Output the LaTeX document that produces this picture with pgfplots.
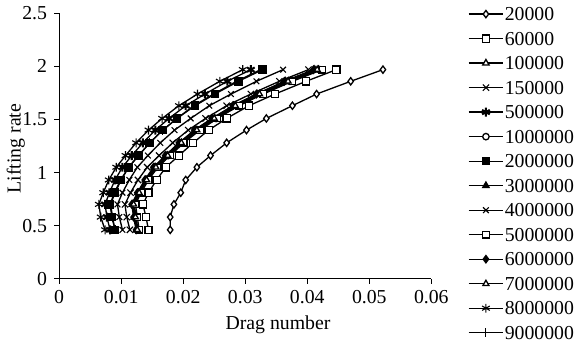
\documentclass[border=0pt]{standalone}
\usepackage{fontspec}
\setmainfont{Liberation Serif}
\usepackage{pgfplots}
\usepackage{pgfplotstable}
\pgfplotsset{compat=1.18}

% Lift-drag polars: drag number per Reynolds number at each lifting rate
\pgfplotstableread{
y    ra     rb     rc     rd     re     rf     rg     rh     ri     rj     rk     rl     rm     rn
0.46 0.0179 0.0144 0.0126 0.0114 0.0082 0.0127 0.0090 0.0125 0.0102 0.0129 0.0124 0.0126 0.0074 0.0090
0.58 0.0179 0.0140 0.0122 0.0109 0.0077 0.0124 0.0085 0.0121 0.0097 0.0126 0.0120 0.0123 0.0067 0.0086
0.70 0.0185 0.0135 0.0119 0.0106 0.0074 0.0121 0.0082 0.0118 0.0094 0.0123 0.0117 0.0120 0.0064 0.0083
0.81 0.0196 0.0144 0.0128 0.0115 0.0081 0.0130 0.0089 0.0127 0.0102 0.0132 0.0126 0.0129 0.0071 0.0090
0.93 0.0204 0.0157 0.0140 0.0127 0.0090 0.0142 0.0099 0.0139 0.0113 0.0144 0.0138 0.0141 0.0080 0.0100
1.05 0.0222 0.0172 0.0155 0.0142 0.0102 0.0157 0.0112 0.0153 0.0126 0.0159 0.0152 0.0156 0.0092 0.0112
1.16 0.0244 0.0193 0.0174 0.0161 0.0117 0.0176 0.0128 0.0172 0.0143 0.0179 0.0171 0.0175 0.0107 0.0128
1.28 0.0270 0.0216 0.0197 0.0183 0.0135 0.0199 0.0146 0.0194 0.0163 0.0201 0.0193 0.0197 0.0124 0.0146
1.40 0.0302 0.0241 0.0222 0.0208 0.0155 0.0224 0.0167 0.0219 0.0186 0.0227 0.0218 0.0222 0.0144 0.0167
1.51 0.0334 0.0270 0.0251 0.0236 0.0177 0.0253 0.0190 0.0247 0.0212 0.0255 0.0246 0.0250 0.0166 0.0190
1.63 0.0376 0.0306 0.0285 0.0270 0.0204 0.0287 0.0219 0.0281 0.0242 0.0290 0.0280 0.0284 0.0193 0.0217
1.74 0.0415 0.0348 0.0324 0.0309 0.0235 0.0326 0.0251 0.0319 0.0277 0.0329 0.0318 0.0323 0.0223 0.0249
1.86 0.0470 0.0398 0.0370 0.0355 0.0271 0.0372 0.0289 0.0365 0.0318 0.0376 0.0363 0.0369 0.0259 0.0286
1.97 0.0522 0.0447 0.0418 0.0402 0.0309 0.0420 0.0328 0.0412 0.0361 0.0424 0.0410 0.0416 0.0296 0.0325
}\polars

\begin{document}
\begin{tikzpicture}[font=\rmfamily]
\begin{axis}[
  scale only axis,
  width=184.5pt, height=131.5pt,
  xmin=0, xmax=0.06, ymin=0, ymax=2.5,
  xtick={0,0.01,0.02,0.03,0.04,0.05,0.06},
  ytick={0,0.5,1,1.5,2,2.5},
  scaled ticks=false,
  xticklabel style={/pgf/number format/fixed, /pgf/number format/precision=2},
  yticklabel style={/pgf/number format/fixed, /pgf/number format/precision=1},
  /pgf/number format/assume math mode=true,
  axis lines*=left,
  axis line style={line width=0.6pt},
  tick align=outside,
  major tick length=2.5pt,
  tick style={line width=0.5pt, black},
  ticklabel style={font=\rmfamily\fontsize{9.8}{11}\selectfont},
  label style={font=\rmfamily\fontsize{9.8}{11}\selectfont},
  xlabel={Drag number},
  ylabel={Lifting rate},
  xlabel style={at={(rel axis cs:0.588,0)}, anchor=center, yshift=-23pt},
  ylabel style={at={(rel axis cs:0,0.49)}, anchor=center, yshift=21.5pt},
  cycle list={{black, solid}},
  every axis plot/.append style={line width=0.65pt, mark size=1.8pt,
    mark options={solid, line width=0.55pt}},
  legend style={at={(rel axis cs:1.0976,1.0)}, anchor=north west,
    yshift=3.6pt,
    draw=none, fill=none, inner sep=0pt,
    row sep=4.65pt,
    font=\rmfamily\fontsize{9.8}{11}\selectfont,
    nodes={inner sep=0.5pt, text height=6.5pt, text depth=0pt}},
  legend cell align=left,
]
\addplot+[mark=diamond*, mark options={fill=white}] table[x=ra, y=y] {\polars};
\addlegendentry{20000}
\addplot+[mark=square*, mark options={fill=white}] table[x=rb, y=y] {\polars};
\addlegendentry{60000}
\addplot+[mark=triangle*, mark options={fill=white}] table[x=rc, y=y] {\polars};
\addlegendentry{100000}
\addplot+[mark=x, mark size=2.2pt] table[x=rd, y=y] {\polars};
\addlegendentry{150000}
\addplot+[mark=asterisk, mark size=2.2pt, mark options={line width=1pt}] table[x=re, y=y] {\polars};
\addlegendentry{500000}
\addplot+[mark=*, mark size=1.6pt, mark options={fill=white}] table[x=rf, y=y] {\polars};
\addlegendentry{1000000}
\addplot+[mark=square*, mark options={fill=black}] table[x=rg, y=y] {\polars};
\addlegendentry{2000000}
\addplot+[mark=triangle*, mark options={fill=black}] table[x=rh, y=y] {\polars};
\addlegendentry{3000000}
\addplot+[mark=x, mark size=2pt] table[x=ri, y=y] {\polars};
\addlegendentry{4000000}
\addplot+[mark=square*, mark size=1.6pt, mark options={fill=white}] table[x=rj, y=y] {\polars};
\addlegendentry{5000000}
\addplot+[mark=diamond*, mark options={fill=black}] table[x=rk, y=y] {\polars};
\addlegendentry{6000000}
\addplot+[mark=triangle*, mark size=1.7pt, mark options={fill=white}] table[x=rl, y=y] {\polars};
\addlegendentry{7000000}
\addplot+[mark=asterisk, mark size=2.2pt] table[x=rm, y=y] {\polars};
\addlegendentry{8000000}
\addplot+[mark=|, mark size=2.2pt] table[x=rn, y=y] {\polars};
\addlegendentry{9000000}
\end{axis}
\end{tikzpicture}
\end{document}
